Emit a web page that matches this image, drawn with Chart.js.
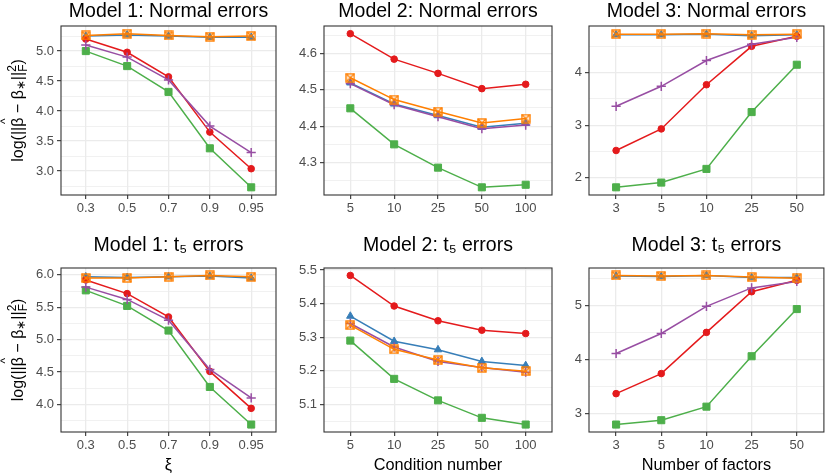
<!DOCTYPE html>
<html>
<head>
<meta charset="utf-8">
<script src="https://cdn.jsdelivr.net/npm/chart.js@4.4.1/dist/chart.umd.min.js"></script>
<style>
  body { margin: 0; background: #fff; }
  #wrap { position: relative; width: 830px; height: 475px; }
  #wrap canvas { position: absolute; left: 0; top: 0; }
</style>
</head>
<body>
<div id="wrap">
  <canvas id="c1" width="830" height="475"></canvas>
  <canvas id="c2" width="830" height="475"></canvas>
  <canvas id="c3" width="830" height="475"></canvas>
  <canvas id="c4" width="830" height="475"></canvas>
  <canvas id="c5" width="830" height="475"></canvas>
  <canvas id="c6" width="830" height="475"></canvas>
</div>
<script>
const family = "'Liberation Sans', Arial, Helvetica, sans-serif"
Chart.defaults.font.family = family

const xiLevels = ["0.3", "0.5", "0.7", "0.9", "0.95"]
const conditionNumbers = ["5", "10", "25", "50", "100"]
const factorCounts = ["3", "5", "10", "25", "50"]

// series order in every panel: red, blue, green, purple, orange
const seriesNames = ["Method 1", "Method 2", "Method 3", "Method 4", "Method 5"]
const seriesColors = ["#E41A1C", "#377EB8", "#4DAF4A", "#984EA3", "#FF7F00"]

const model1Normal = [
  [5.20, 4.98, 4.57, 3.65, 3.04],
  [5.25, 5.27, 5.25, 5.23, 5.23],
  [5.00, 4.75, 4.32, 3.38, 2.73],
  [5.10, 4.90, 4.52, 3.75, 3.31],
  [5.26, 5.29, 5.26, 5.24, 5.25]
]
const model2Normal = [
  [4.654, 4.584, 4.545, 4.503, 4.515],
  [4.519, 4.461, 4.429, 4.397, 4.408],
  [4.449, 4.350, 4.286, 4.232, 4.239],
  [4.517, 4.459, 4.426, 4.393, 4.403],
  [4.533, 4.473, 4.440, 4.409, 4.421]
]
const model3Normal = [
  [2.52, 2.93, 3.77, 4.50, 4.69],
  [4.72, 4.72, 4.73, 4.70, 4.72],
  [1.82, 1.91, 2.17, 3.25, 4.15],
  [3.36, 3.74, 4.23, 4.54, 4.67],
  [4.73, 4.73, 4.74, 4.72, 4.73]
]
const model1T5 = [
  [5.92, 5.71, 5.35, 4.51, 3.94],
  [5.97, 5.96, 5.97, 5.98, 5.95],
  [5.76, 5.52, 5.14, 4.27, 3.69],
  [5.81, 5.62, 5.30, 4.54, 4.10],
  [5.95, 5.95, 5.97, 5.99, 5.97]
]
const model2T5 = [
  [5.484, 5.393, 5.349, 5.321, 5.311],
  [5.363, 5.288, 5.263, 5.228, 5.216],
  [5.290, 5.176, 5.112, 5.060, 5.040],
  [5.341, 5.271, 5.228, 5.210, 5.196],
  [5.336, 5.264, 5.232, 5.209, 5.199]
]
const model3T5 = [
  [3.37, 3.74, 4.50, 5.25, 5.46],
  [5.54, 5.53, 5.55, 5.51, 5.51],
  [2.80, 2.88, 3.13, 4.06, 4.93],
  [4.11, 4.48, 4.98, 5.32, 5.44],
  [5.55, 5.54, 5.55, 5.52, 5.50]
]

// orange marker: square with a cross (ggplot shape 7)
const boxCross = document.createElement("canvas")
boxCross.width = 10
boxCross.height = 10
{
  const g = boxCross.getContext("2d")
  g.strokeStyle = "#FF7F00"
  g.lineWidth = 1.4
  g.strokeRect(1, 1, 8, 8)
  g.beginPath()
  g.moveTo(1, 1); g.lineTo(9, 9)
  g.moveTo(9, 1); g.lineTo(1, 9)
  g.stroke()
}
const markerStyles = ["circle", "triangle", "rect", "cross", boxCross]
const markerSizes = [3.3, 4.3, 5, 4.6, 5]
const drawOrder = [3, 4, 2, 1, 0]

const panels = [
  { id: "c1", title: "Model 1: Normal errors", values: model1Normal, labels: xiLevels, box: [61, 26, 276, 195], titleTop: 1.5, xH: 30, major: 0.5, digits: 1, yLabel: true },
  { id: "c2", title: "Model 2: Normal errors", values: model2Normal, labels: conditionNumbers, box: [324, 26, 552, 195], titleTop: 1.5, xH: 30, major: 0.1, digits: 1 },
  { id: "c3", title: "Model 3: Normal errors", values: model3Normal, labels: factorCounts, box: [589, 26, 829, 195], titleTop: 1.5, xH: 30, major: 1, digits: 0 },
  { id: "c4", title: "Model 1: t₅ errors", values: model1T5, labels: xiLevels, box: [61, 268, 276, 432], titleTop: 236, xH: 43, major: 0.5, digits: 1, yLabel: true, xTitle: "ξ" },
  { id: "c5", title: "Model 2: t₅ errors", values: model2T5, labels: conditionNumbers, box: [324, 268, 552, 432], titleTop: 236, xH: 43, major: 0.1, digits: 1, xTitle: "Condition number" },
  { id: "c6", title: "Model 3: t₅ errors", values: model3T5, labels: factorCounts, box: [589, 268, 829, 432], titleTop: 236, xH: 43, major: 1, digits: 0, xTitle: "Number of factors" }
]

// panel border drawn over everything, like ggplot's panel.border
const borderPlugin = {
  id: "panelBorder",
  afterDraw(chart) {
    const a = chart.chartArea
    const ctx = chart.ctx
    ctx.save()
    ctx.strokeStyle = "#333333"
    ctx.lineWidth = 1.1
    ctx.strokeRect(a.left, a.top, a.right - a.left, a.bottom - a.top)
    ctx.restore()
  }
}

// y axis label with hat, sub- and superscripts
const yLabelPlugin = {
  id: "yLabel",
  afterDraw(chart, args, opts) {
    if (!opts.show) return
    const ctx = chart.ctx
    const a = chart.chartArea
    const big = "16px " + family
    const small = "12px " + family
    const parts = [
      { t: "log(||", f: big, dy: 0 },
      { t: "β", hat: true, f: big, dy: 0 },
      { t: " − ", f: big, dy: 0 },
      { t: "β", f: big, dy: 0 },
      { t: "∗", f: small, dy: 2 },
      { t: "||", f: big, dy: 0 },
      { t: "2", sub: "F", f: small, dy: -7, dy2: 4 },
      { t: ")", f: big, dy: 0 }
    ]
    let total = 0
    parts.forEach(p => {
      ctx.font = p.f
      p.w = ctx.measureText(p.t).width
      if (p.sub) p.w = Math.max(p.w, ctx.measureText(p.sub).width)
      total += p.w
    })
    ctx.save()
    ctx.translate(opts.x, (a.top + a.bottom) / 2)
    ctx.rotate(-Math.PI / 2)
    ctx.fillStyle = "#000"
    ctx.textBaseline = "alphabetic"
    let x = -total / 2
    const base = 5.5
    parts.forEach(p => {
      ctx.font = p.f
      ctx.textAlign = "left"
      ctx.fillText(p.t, x, base + p.dy)
      if (p.sub) ctx.fillText(p.sub, x, base + p.dy2)
      if (p.hat) {
        ctx.font = small
        ctx.textAlign = "center"
        ctx.fillText("^", x + p.w / 2 + 1, base - 14)
      }
      x += p.w
    })
    ctx.restore()
  }
}

const isMajor = (v, major) => Math.abs(v / major - Math.round(v / major)) < 1e-6

panels.forEach(p => {
  const vals = p.values.flat()
  const lo = Math.min(...vals)
  const hi = Math.max(...vals)
  const yMin = lo - (hi - lo) * 0.05
  const yMax = hi + (hi - lo) * 0.05
  const minor = p.major / 2

  const datasets = p.values.map((row, i) => ({
    label: seriesNames[i],
    data: row.map((v, j) => ({ x: j + 1, y: v })),
    borderColor: seriesColors[i],
    backgroundColor: seriesColors[i],
    borderWidth: 1.5,
    pointStyle: markerStyles[i],
    pointRadius: markerSizes[i],
    pointBorderWidth: i === 3 ? 1.5 : 1,
    tension: 0,
    order: drawOrder[i]
  }))

  new Chart(document.getElementById(p.id), {
    type: "line",
    data: { datasets },
    plugins: [borderPlugin, yLabelPlugin],
    options: {
      responsive: false,
      animation: false,
      devicePixelRatio: 1,
      layout: {
        padding: { left: 0, top: p.titleTop, right: 830 - p.box[2], bottom: 475 - p.box[3] - p.xH }
      },
      plugins: {
        legend: { display: false },
        tooltip: { enabled: false },
        title: {
          display: true,
          text: p.title,
          fullSize: false,
          color: "#000",
          font: { size: 19.5, weight: "normal", lineHeight: 1 },
          padding: { top: 0, bottom: p.box[1] - p.titleTop - 19.5 }
        },
        yLabel: { show: !!p.yLabel, x: 17 }
      },
      scales: {
        x: {
          type: "linear",
          min: 0.4,
          max: 5.6,
          afterBuildTicks: s => { s.ticks = p.labels.map((_, i) => ({ value: i + 1 })) },
          afterFit: s => { s.height = p.xH },
          ticks: {
            callback: v => p.labels[Math.round(v) - 1],
            color: "#4D4D4D",
            font: { size: 13 },
            padding: 2,
            maxRotation: 0,
            autoSkip: false
          },
          grid: { color: "#EBEBEB", lineWidth: 1.3, tickColor: "#333333", tickLength: 4, tickWidth: 1.1 },
          border: { display: false },
          title: {
            display: !!p.xTitle,
            text: p.xTitle || "",
            color: "#000",
            font: { size: 16.3, lineHeight: 1.2 },
            padding: 0
          }
        },
        y: {
          type: "linear",
          min: yMin,
          max: yMax,
          afterBuildTicks: s => {
            const ticks = []
            for (let k = Math.ceil(yMin / minor - 1e-9); k * minor <= yMax + 1e-9; k++) {
              ticks.push({ value: Math.round(k * minor * 1e6) / 1e6 })
            }
            s.ticks = ticks
          },
          afterFit: s => { s.width = p.box[0] },
          ticks: {
            callback: v => isMajor(v, p.major) ? v.toFixed(p.digits) : "",
            color: "#4D4D4D",
            font: { size: 13 },
            padding: 3,
            autoSkip: false
          },
          grid: {
            color: "#EBEBEB",
            lineWidth: c => isMajor(c.tick.value, p.major) ? 1.3 : 0.7,
            tickColor: c => isMajor(c.tick.value, p.major) ? "#333333" : "rgba(0,0,0,0)",
            tickLength: 4,
            tickWidth: 1.1
          },
          border: { display: false }
        }
      }
    }
  })
})
</script>
</body>
</html>
